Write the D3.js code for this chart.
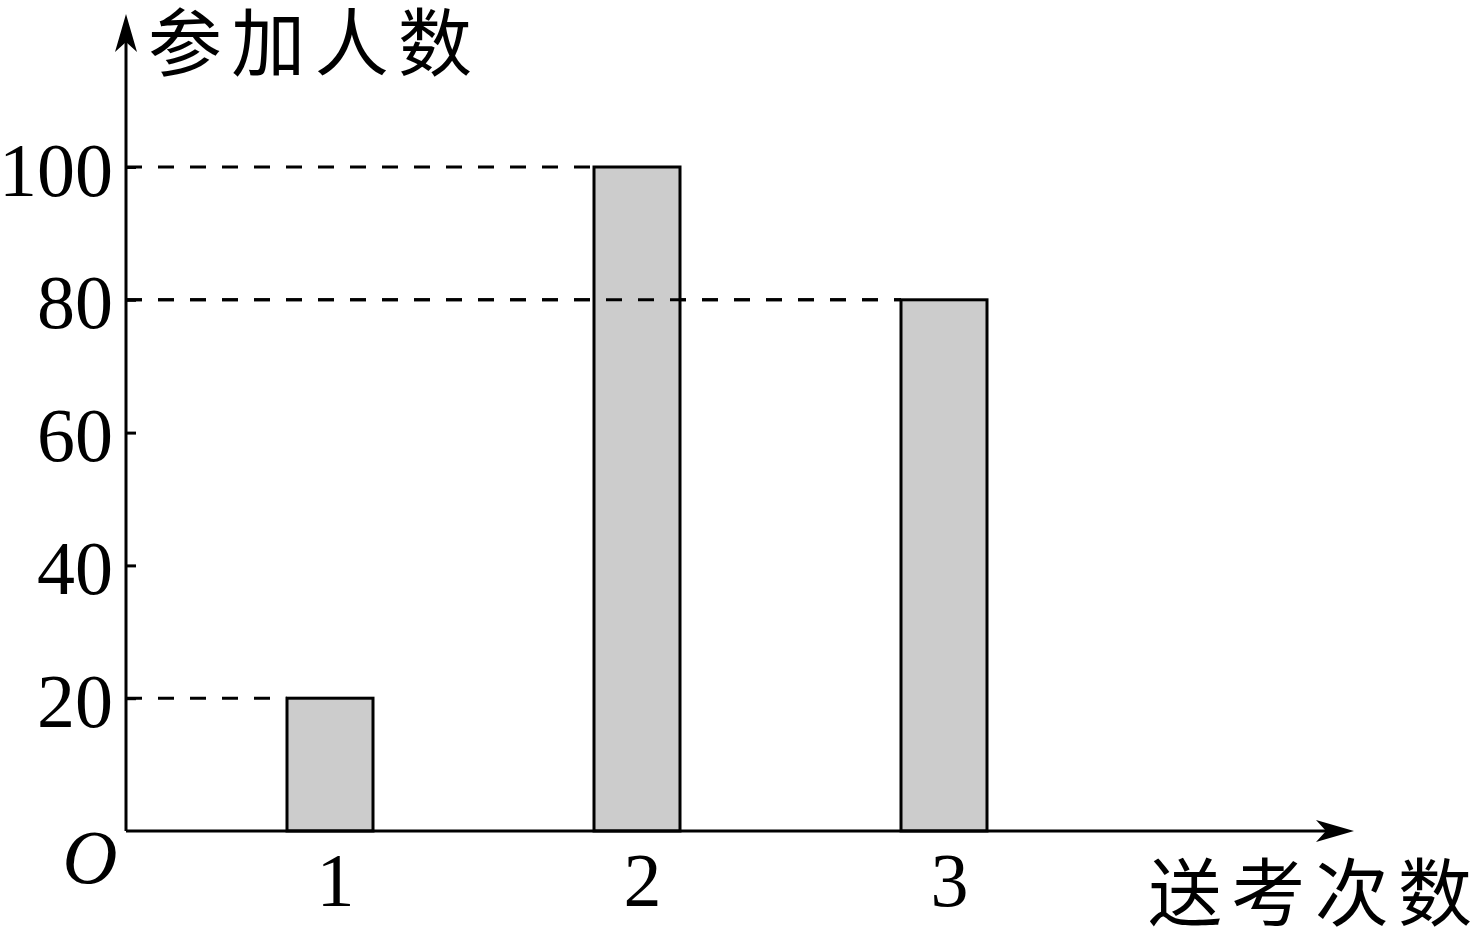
<!DOCTYPE html>
<html>
<head>
<meta charset="utf-8">
<script src="https://cdn.jsdelivr.net/npm/d3@7"></script>
<style>
  body { margin: 0; background: #fff; }
  svg { display: block; }
  .num { font-family: "Liberation Serif", "Times New Roman", serif; font-size: 76px; fill: #000; }
  .cjk { font-family: "Noto Sans CJK SC", sans-serif; font-size: 74px; fill: #000; }
</style>
</head>
<body>
<svg id="chart" width="1476" height="933"></svg>
<script>
var categories = [1, 2, 3];
var counts = [20, 100, 80];
var yTicks = [20, 40, 60, 80, 100];
var yTitle = '参加人数';
var xTitle = '送考次数';

var svg = d3.select('#chart');
var ox = 126, oy = 831;

var x = d3.scaleLinear().domain([1, 3]).range([330, 944]);
var y = d3.scaleLinear().domain([0, 100]).range([oy, 167]);
var barW = 86;
var dash = '16,16';

// dashed guides from the y axis to each bar's left side
svg.selectAll('line.guide')
  .data(counts)
  .enter()
  .append('line')
  .attr('class', 'guide')
  .attr('x1', ox)
  .attr('x2', function(d, i) { return x(categories[i]) - barW / 2; })
  .attr('y1', function(d) { return y(d); })
  .attr('y2', function(d) { return y(d); })
  .attr('stroke', '#000')
  .attr('stroke-width', 3)
  .attr('stroke-dasharray', dash);

svg.selectAll('rect.bar')
  .data(counts)
  .enter()
  .append('rect')
  .attr('class', 'bar')
  .attr('x', function(d, i) { return x(categories[i]) - barW / 2; })
  .attr('y', function(d) { return y(d); })
  .attr('width', barW)
  .attr('height', function(d) { return oy - y(d); })
  .attr('fill', '#cccccc')
  .attr('stroke', '#000')
  .attr('stroke-width', 3);

// the 80 guide runs across bar 2, so redraw it on top
svg.append('line')
  .attr('x1', ox)
  .attr('x2', x(3) - barW / 2)
  .attr('y1', y(80))
  .attr('y2', y(80))
  .attr('stroke', '#000')
  .attr('stroke-width', 3)
  .attr('stroke-dasharray', dash);

// axes
svg.append('line')
  .attr('x1', ox).attr('x2', 1330)
  .attr('y1', oy).attr('y2', oy)
  .attr('stroke', '#000').attr('stroke-width', 3);
svg.append('line')
  .attr('x1', ox).attr('x2', ox)
  .attr('y1', oy).attr('y2', 40)
  .attr('stroke', '#000').attr('stroke-width', 3);

svg.append('path')
  .attr('d', 'M1354,' + oy + ' L1316,' + (oy - 11) + ' L1326,' + oy + ' L1316,' + (oy + 11) + ' Z')
  .attr('fill', '#000');
svg.append('path')
  .attr('d', 'M' + ox + ',14 L' + (ox - 11) + ',52 L' + ox + ',42 L' + (ox + 11) + ',52 Z')
  .attr('fill', '#000');

// y ticks (pointing inward) and labels
var yAxis = svg.append('g')
  .attr('transform', 'translate(' + ox + ',0)')
  .call(d3.axisLeft(y).tickValues(yTicks).tickSize(-10).tickPadding(13));
yAxis.select('.domain').remove();
yAxis.selectAll('.tick line')
  .attr('stroke', '#000')
  .attr('stroke-width', 3);
yAxis.selectAll('text')
  .attr('class', 'num')
  .attr('font-size', null)
  .attr('font-family', null)
  .attr('dy', '0.37em');

// x tick labels
var xAxis = svg.append('g')
  .attr('transform', 'translate(0,' + oy + ')')
  .call(d3.axisBottom(x).tickValues(categories).tickFormat(d3.format('d')).tickSize(0).tickPadding(21));
xAxis.select('.domain').remove();
xAxis.selectAll('text')
  .attr('class', 'num')
  .attr('font-size', null)
  .attr('font-family', null)
  .attr('x', 5);

svg.append('text')
  .attr('class', 'num')
  .attr('x', 90).attr('y', 883)
  .attr('text-anchor', 'middle')
  .style('font-style', 'italic')
  .text('O');

svg.append('text')
  .attr('class', 'cjk')
  .attr('x', 148).attr('y', 70)
  .attr('textLength', 324)
  .text(yTitle);

svg.append('text')
  .attr('class', 'cjk')
  .attr('x', 1148).attr('y', 920)
  .attr('textLength', 324)
  .text(xTitle);
</script>
</body>
</html>
